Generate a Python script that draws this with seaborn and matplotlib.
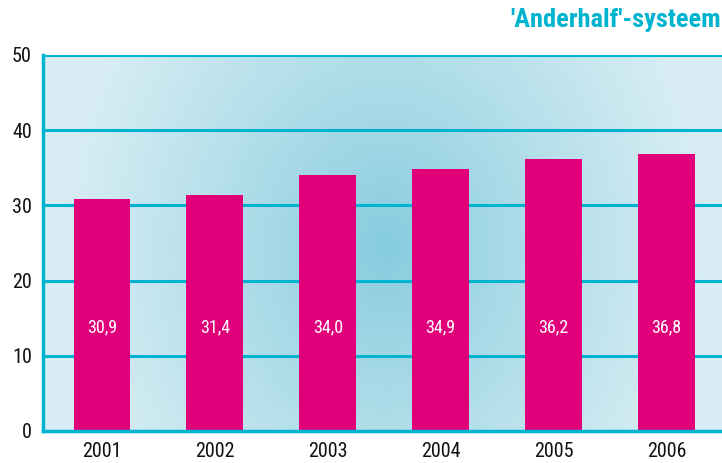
import numpy as np
import pandas as pd
import matplotlib
matplotlib.use("Agg")
import matplotlib.pyplot as plt
import seaborn as sns
from matplotlib import font_manager as fm

years = ["2001", "2002", "2003", "2004", "2005", "2006"]
values = [30.9, 31.4, 34.0, 34.9, 36.2, 36.8]
value_labels = ["30,9", "31,4", "34,0", "34,9", "36,2", "36,8"]
yticks = [0, 10, 20, 30, 40, 50]
title = "'Anderhalf'-systeem"

sns.set_theme(style="white")
avail = {f.name for f in fm.fontManager.ttflist}
fam = [f for f in ["Roboto Condensed", "Liberation Sans Narrow", "Open Sans Condensed",
                   "Roboto", "DejaVu Sans"] if f in avail]
plt.rcParams['font.family'] = fam

CYAN = "#00B4CF"
MAGENTA = "#E2007A"

fig = plt.figure(figsize=(7.22, 4.63), dpi=100)
ax = fig.add_axes([43/722, 1-431/463, 1-43/722, (431-55)/463])

df = pd.DataFrame({"year": years, "value": values})

# background radial gradient
W, H = 679, 376
xx, yy = np.meshgrid(np.arange(W) + 43, np.arange(H) + 55)
d = np.sqrt(((xx - 385) / 320.0) ** 2 + ((yy - 245) / 380.0) ** 2)
d = np.clip(d, 0, 1) ** 0.85
c0 = np.array([0x84, 0xCB, 0xDE]) / 255
c1 = np.array([0xD7, 0xED, 0xF3]) / 255
img = c0[None, None, :] * (1 - d[..., None]) + c1[None, None, :] * d[..., None]
xlim = (-0.52, 5.49)
ax.imshow(img, extent=[xlim[0], xlim[1], 0, 50], aspect="auto", zorder=0, origin="upper")

for yv in yticks[1:]:
    ax.axhline(yv, color=CYAN, lw=2.2, zorder=1)

sns.barplot(data=df, x="year", y="value", color=MAGENTA, width=0.5,
            saturation=1, ax=ax, zorder=2)
for p in ax.patches:
    p.set_edgecolor("none")

for i, lab in enumerate(value_labels):
    ax.text(i, 13.8, lab, color="white", ha="center", va="center",
            fontsize=13, zorder=3)

ax.set_xlim(*xlim)
ax.set_ylim(0, 50)
ax.set_yticks(yticks)
ax.set_yticklabels([str(v) for v in yticks])
ax.set_xlabel("")
ax.set_ylabel("")
ax.tick_params(axis="both", length=0, labelsize=14.5, labelcolor="#111111")
ax.tick_params(axis="y", pad=8)
ax.tick_params(axis="x", pad=8)

for s in ["top", "right"]:
    ax.spines[s].set_visible(False)
for s in ["left", "bottom"]:
    ax.spines[s].set_color(CYAN)
    ax.spines[s].set_linewidth(2.5)
    ax.spines[s].set_zorder(4)

fig.text(721/722, 1 - 20/463, title, color=CYAN, fontsize=19, fontweight="bold",
         ha="right", va="center")

fig.savefig("out.png", dpi=100)
